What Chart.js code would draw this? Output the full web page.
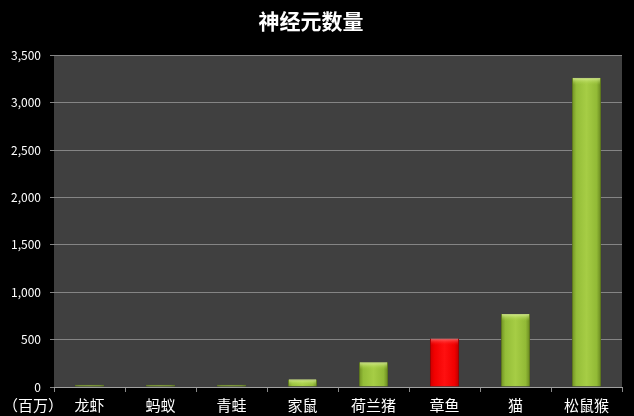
<!DOCTYPE html>
<html>
<head>
<meta charset="utf-8">
<script src="https://cdn.jsdelivr.net/npm/chart.js@4/dist/chart.umd.min.js"></script>
<style>
html,body{margin:0;padding:0;background:#000;}
#wrap{width:634px;height:416px;position:relative;}
</style>
</head>
<body>
<div id="wrap"><canvas id="c" width="634" height="416"></canvas></div>
<script>
const categories = ['龙虾','蚂蚁','青蛙','家鼠','荷兰猪','章鱼','猫','松鼠猴'];
const neurons = [25, 25, 25, 80, 260, 510, 770, 3260];
const highlightIndex = 5;
const titleText = '神经元数量';
const unitText = '（百万）';
const yMax = 3500, yStep = 500;

const FONT = '"Noto Sans CJK SC", "Microsoft YaHei", sans-serif';
const BAR_FRAC = 0.41;

function barFill(ctx) {
  const chart = ctx.chart;
  const area = chart.chartArea;
  const red = ctx.dataIndex === highlightIndex;
  if (!area || !chart.scales.x) return red ? '#ff0000' : '#9bc43c';
  const cx = chart.scales.x.getPixelForValue(ctx.dataIndex);
  const hw = area.width / categories.length * BAR_FRAC / 2;
  const g = chart.ctx.createLinearGradient(cx - hw, 0, cx + hw, 0);
  if (red) {
    g.addColorStop(0, '#c80000'); g.addColorStop(0.15, '#f00000');
    g.addColorStop(0.5, '#ff1010'); g.addColorStop(0.85, '#f00000'); g.addColorStop(1, '#b80000');
  } else {
    g.addColorStop(0, '#6f8f22'); g.addColorStop(0.15, '#94bd38');
    g.addColorStop(0.5, '#a6cd45'); g.addColorStop(0.85, '#92ba36'); g.addColorStop(1, '#66851f');
  }
  return g;
}

const bgPlugin = {
  id: 'plotBg',
  beforeDraw(chart) {
    const {ctx, chartArea: a} = chart;
    ctx.save();
    ctx.fillStyle = '#000';
    ctx.fillRect(0, 0, chart.width, chart.height);
    ctx.fillStyle = '#404040';
    ctx.fillRect(a.left, a.top, a.right - a.left, a.bottom - a.top);
    ctx.restore();
  },
  afterDatasetsDraw(chart) {
    const ctx = chart.ctx;
    const meta = chart.getDatasetMeta(0);
    ctx.save();
    meta.data.forEach((bar, i) => {
      const h = bar.base - bar.y;
      if (h < 6) return;
      const w = bar.width;
      const g = ctx.createLinearGradient(0, bar.y, 0, bar.y + 7);
      if (i === highlightIndex) {
        g.addColorStop(0, 'rgba(255,140,140,0.7)'); g.addColorStop(1, 'rgba(255,0,0,0)');
      } else {
        g.addColorStop(0, 'rgba(225,245,160,0.8)'); g.addColorStop(1, 'rgba(170,210,70,0)');
      }
      ctx.fillStyle = g;
      ctx.fillRect(bar.x - w / 2 + 1, bar.y, w - 2, 7);
    });
    ctx.restore();
  },
  afterDraw(chart) {
    const ctx = chart.ctx;
    ctx.save();
    ctx.fillStyle = '#ffffff';
    ctx.font = '15px ' + FONT;
    ctx.textAlign = 'left';
    ctx.textBaseline = 'middle';
    ctx.fillText(unitText, 3, 405);
    ctx.restore();
  }
};

new Chart(document.getElementById('c'), {
  type: 'bar',
  data: {
    labels: categories,
    datasets: [{
      data: neurons,
      backgroundColor: barFill,
      borderColor: (c) => c.dataIndex === highlightIndex ? '#a00000' : '#5f7a1c',
      borderWidth: 1,
      barPercentage: BAR_FRAC,
      categoryPercentage: 1.0
    }]
  },
  plugins: [bgPlugin],
  options: {
    responsive: false,
    animation: false,
    devicePixelRatio: 1,
    layout: { padding: { left: 0, right: 12, top: 0, bottom: 0 } },
    plugins: {
      legend: { display: false },
      tooltip: { enabled: false },
      title: {
        display: true,
        text: titleText,
        color: '#ffffff',
        font: { family: FONT, size: 21, weight: 'bold' },
        padding: { top: 8, bottom: 22 }
      }
    },
    scales: {
      x: {
        grid: { display: true, drawOnChartArea: false, color: '#8a8a8a', tickLength: 5, offset: true },
        border: { display: true, color: '#a0a0a0', width: 1 },
        ticks: { color: '#ffffff', font: { family: FONT, size: 15 }, padding: 4, maxRotation: 0 },
        afterFit(s) { s.height = 29; }
      },
      y: {
        min: 0, max: yMax,
        grid: { color: '#858585', tickLength: 4, lineWidth: 1 },
        border: { display: false },
        ticks: {
          stepSize: yStep,
          color: '#ffffff',
          font: { family: FONT, size: 12 },
          padding: 9,
          callback: (v) => v.toLocaleString('en-US')
        },
        afterFit(s) { s.width = 54; }
      }
    }
  }
});
</script>
</body>
</html>
